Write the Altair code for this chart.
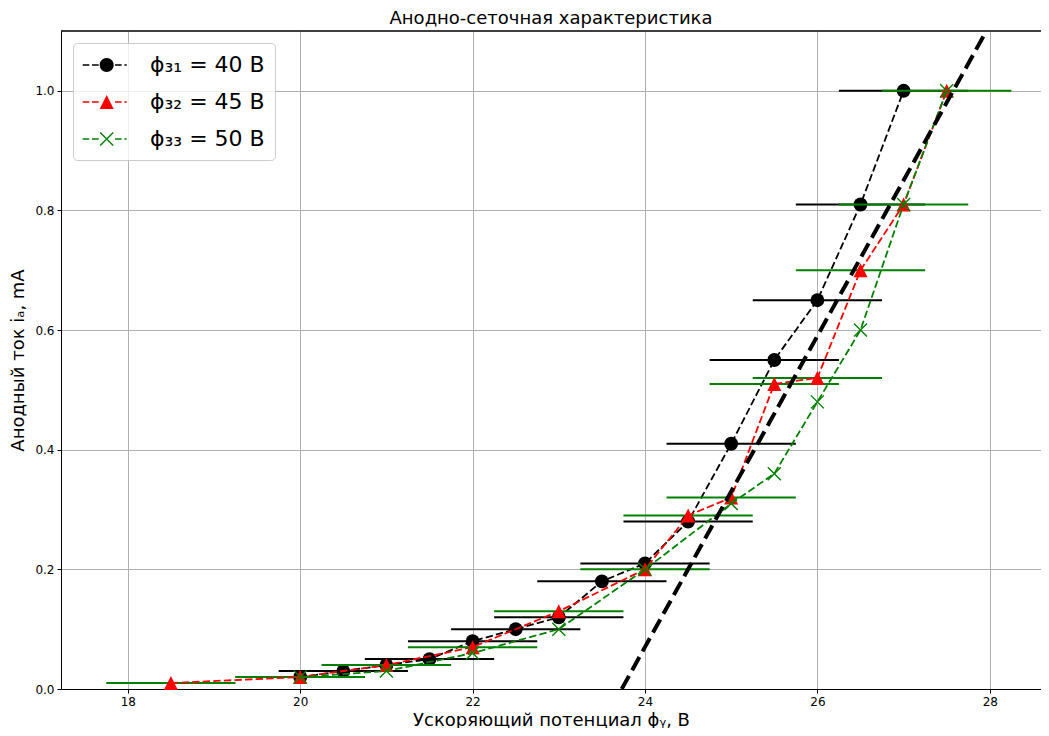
import altair as alt
import pandas as pd

# ---- data ----
x40 = [20, 20.5, 21, 21.5, 22, 22.5, 23, 23.5, 24, 24.5, 25, 25.5, 26, 26.5, 27]
y40 = [0.02, 0.03, 0.04, 0.05, 0.08, 0.10, 0.12, 0.18, 0.21, 0.28, 0.41, 0.55, 0.65, 0.81, 1.00]
x45 = [18.5, 20, 21, 22, 23, 24, 24.5, 25, 25.5, 26, 26.5, 27, 27.5]
y45 = [0.01, 0.02, 0.04, 0.07, 0.13, 0.20, 0.29, 0.32, 0.51, 0.52, 0.70, 0.81, 1.00]
x50 = [20, 21, 22, 23, 24, 25, 25.5, 26, 26.5, 27, 27.5]
y50 = [0.02, 0.03, 0.06, 0.10, 0.20, 0.31, 0.36, 0.48, 0.60, 0.81, 1.00]
x_err = 0.75
fit_x = [23.73, 27.96]
fit_y = [0.0, 1.1]
series_labels = ["ϕ₃₁ = 40 В", "ϕ₃₂ = 45 В", "ϕ₃₃ = 50 В"]
series_colors = ["#000000", "#ff0000", "#008000"]
x_ticks = [18, 20, 22, 24, 26, 28]
y_ticks = [0.0, 0.2, 0.4, 0.6, 0.8, 1.0]

FONT = "DejaVu Sans"

df40 = pd.DataFrame({"x": x40, "y": y40,
                     "lo": [v - x_err for v in x40], "hi": [v + x_err for v in x40]})
df45 = pd.DataFrame({"x": x45, "y": y45,
                     "lo": [v - x_err for v in x45], "hi": [v + x_err for v in x45]})
df50 = pd.DataFrame({"x": x50, "y": y50})
dffit = pd.DataFrame({"x": fit_x, "y": fit_y})
dflegend = pd.DataFrame({"series": series_labels})

xs = alt.Scale(domain=[17.225, 28.594], nice=False, zero=False)
ys = alt.Scale(domain=[0, 1.1], nice=False, zero=False)
xaxis = alt.Axis(values=x_ticks, format="d", title="Ускоряющий потенциал ϕᵧ, В")
yaxis = alt.Axis(values=y_ticks, format=".1f", title="Анодный ток iₐ, mA")


def X(f):
    return alt.X(f, type="quantitative", scale=xs, axis=xaxis)


def Y(f):
    return alt.Y(f, type="quantitative", scale=ys, axis=yaxis)


DASH = [7.4, 3.2]

bars40 = alt.Chart(df40).mark_rule(color="#000000", strokeWidth=2).encode(
    x=X("lo"), x2="hi", y=Y("y"))
line40 = alt.Chart(df40).mark_line(color="#000000", strokeWidth=1.8, strokeDash=DASH).encode(
    x=X("x"), y=Y("y"))
pts40 = alt.Chart(df40).mark_point(shape="circle", filled=True, size=193, color="#000000",
                                   opacity=1, strokeWidth=0).encode(x=X("x"), y=Y("y"))

bars45 = alt.Chart(df45).mark_rule(color="#008000", strokeWidth=2).encode(
    x=X("lo"), x2="hi", y=Y("y"))
line45 = alt.Chart(df45).mark_line(color="#ff0000", strokeWidth=1.8, strokeDash=DASH).encode(
    x=X("x"), y=Y("y"))
pts45 = alt.Chart(df45).mark_point(shape="M0,-1L1,1L-1,1Z", filled=True, size=196,
                                   color="#ff0000", opacity=1, strokeWidth=0).encode(
    x=X("x"), y=Y("y"))

line50 = alt.Chart(df50).mark_line(color="#008000", strokeWidth=1.8, strokeDash=DASH).encode(
    x=X("x"), y=Y("y"))
pts50 = alt.Chart(df50).mark_point(shape="M-1,-1L1,1M-1,1L1,-1", filled=False, size=169,
                                   color="#008000", opacity=1, strokeWidth=1.4).encode(
    x=X("x"), y=Y("y"))

fit = alt.Chart(dffit).mark_line(color="#000000", strokeWidth=4, strokeDash=[15, 6.5],
                                 clip=True).encode(x=X("x"), y=Y("y"))

top_frame = alt.Chart(dffit).mark_rule(color="#000000", strokeWidth=1).encode(
    y=alt.value(0))

# ---- legend symbols: dashed line + marker, built as filled paths ----
S = 12.0  # px per path unit (sqrt(576)/2)
HT = 0.8


def rect(x0, x1, h=HT):
    return (f"M{x0/S:.3f},{-h/S:.3f}L{x1/S:.3f},{-h/S:.3f}"
            f"L{x1/S:.3f},{h/S:.3f}L{x0/S:.3f},{h/S:.3f}Z")


dashes = rect(-12.3, -5.7) + rect(-3.0, 3.7) + rect(20.0, 26.7) + rect(29.4, 31.7)
CX = 11.7


def circle(cx, r):
    return (f"M{(cx-r)/S:.3f},0A{r/S:.3f},{r/S:.3f} 0 1,0 {(cx+r)/S:.3f},0"
            f"A{r/S:.3f},{r/S:.3f} 0 1,0 {(cx-r)/S:.3f},0Z")


def tri(cx, r):
    return f"M{cx/S:.3f},{-r/S:.3f}L{(cx+r)/S:.3f},{r/S:.3f}L{(cx-r)/S:.3f},{r/S:.3f}Z"


def xcross(cx, r, t=0.7):
    d = t / 2 ** 0.5
    p1 = [(cx - r + d, -r - d), (cx + r + d, r - d), (cx + r - d, r + d), (cx - r - d, -r + d)]
    p2 = [(cx - r - d, r - d), (cx + r - d, -r - d), (cx + r + d, -r + d), (cx - r + d, r + d)]
    out = ""
    for p in (p1, p2):
        out += "M" + "L".join(f"{a/S:.3f},{b/S:.3f}" for a, b in p) + "Z"
    return out


legend_shapes = [dashes + circle(CX, 7.0), dashes + tri(CX, 7.0), dashes + xcross(CX, 6.5)]

leg = alt.Legend(
    title=None, orient="top-left", offset=12, padding=10,
    symbolSize=576, symbolStrokeWidth=0, labelFont=FONT,
    labelFontSize=22, labelOffset=43, rowPadding=14,
    fillColor="rgba(255,255,255,0.8)", strokeColor="#cccccc",
    cornerRadius=4, labelColor="#000000")

legend_layer = alt.Chart(dflegend).mark_point(filled=True, opacity=1).encode(
    color=alt.Color("series:N", scale=alt.Scale(domain=series_labels, range=series_colors),
                    legend=leg),
    shape=alt.Shape("series:N", scale=alt.Scale(domain=series_labels, range=legend_shapes),
                    legend=leg),
).transform_filter("false")

chart = alt.layer(
    bars40, line40, pts40, bars45, line45, pts45, line50, pts50, fit, top_frame, legend_layer
).properties(
    width=980, height=658,
    autosize=alt.AutoSizeParams(type="none"),
    padding={"left": 53, "top": 23, "right": 0, "bottom": 39},
    title=alt.TitleParams("Анодно-сеточная характеристика", font=FONT, fontSize=18,
                          fontWeight="normal", anchor="middle", color="#000000", offset=3),
).configure_view(stroke=None).configure_axis(
    labelFont=FONT, labelFontSize=12, labelColor="#000000",
    titleFont=FONT, titleFontSize=18, titleFontWeight="normal", titleColor="#000000",
    domainColor="#000000", domainWidth=1, tickColor="#000000", tickSize=4, tickWidth=1,
    gridColor="#b0b0b0", gridWidth=1, labelPadding=3,
).configure_axisX(titlePadding=4).configure_axisY(titlePadding=7)

chart.save("out.html", embed_options={"renderer": "svg", "actions": False})
